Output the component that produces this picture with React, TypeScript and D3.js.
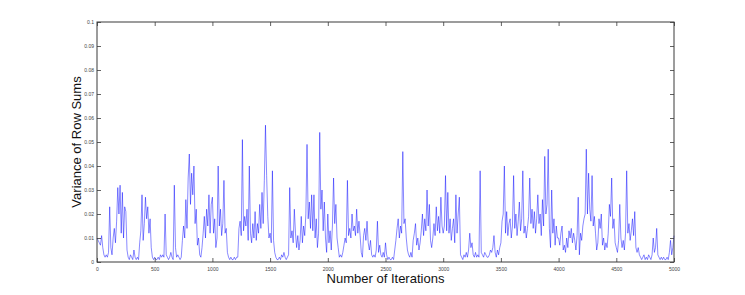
import { useEffect, useRef } from "react";
import * as d3 from "d3";

// variance of row sums, sampled every 10 iterations (units of 1e-3)
const iter0to1000 = [
  10, 9, 8, 7, 11, 6, 3, 2, 3, 2, 4, 23, 6, 3, 10, 14, 8, 17, 31, 20,
  32, 12, 29, 10, 23, 21, 5, 2, 1, 3, 2, 1, 5, 2, 1, 2, 1, 8, 13, 28,
  9, 16, 27, 18, 23, 12, 18, 6, 2, 1, 2, 1, 1, 2, 1, 3, 2, 3, 2, 20,
  3, 2, 1, 2, 4, 2, 1, 32, 6, 2, 3, 2, 1, 2, 9, 15, 10, 26, 14, 35,
  45, 24, 37, 28, 40, 16, 22, 7, 10, 3, 2, 6, 12, 19, 10, 22, 15, 28, 12, 24,
];
const iter1000to2000 = [
  27, 12, 18, 6, 10, 40, 15, 22, 11, 16, 34, 12, 14, 4, 2, 1, 2, 1, 1, 2,
  1, 2, 2, 14, 17, 11, 51, 13, 19, 15, 22, 9, 40, 12, 8, 16, 10, 21, 9, 16,
  12, 24, 14, 29, 16, 34, 57, 36, 19, 10, 12, 8, 38, 9, 4, 2, 1, 1, 2, 1,
  3, 2, 4, 2, 1, 2, 3, 31, 10, 13, 8, 22, 12, 6, 11, 5, 9, 19, 8, 15,
  11, 20, 49, 18, 25, 14, 28, 13, 28, 10, 18, 6, 12, 54, 22, 30, 13, 25, 10, 4,
];
const iter2000to3000 = [
  20, 8, 13, 5, 15, 35, 16, 24, 10, 6, 2, 3, 2, 4, 7, 10, 8, 34, 11, 14,
  10, 20, 13, 15, 11, 22, 12, 17, 11, 4, 2, 11, 14, 9, 17, 8, 5, 9, 3, 2,
  3, 2, 5, 17, 4, 7, 3, 2, 4, 2, 8, 3, 1, 2, 1, 1, 2, 1, 5, 9,
  14, 18, 10, 15, 12, 46, 16, 18, 10, 5, 3, 2, 4, 2, 9, 12, 16, 7, 10, 5,
  8, 13, 20, 11, 18, 13, 30, 15, 24, 9, 6, 10, 16, 11, 23, 13, 19, 12, 27, 15,
];
const iter3000to4000 = [
  12, 15, 36, 13, 29, 12, 18, 9, 14, 18, 8, 28, 12, 20, 27, 3, 2, 1, 3, 2,
  4, 2, 5, 12, 6, 8, 3, 2, 4, 2, 3, 2, 38, 4, 3, 2, 4, 3, 2, 2,
  3, 5, 4, 6, 11, 4, 2, 5, 3, 6, 8, 17, 20, 40, 12, 21, 11, 16, 18, 10,
  15, 36, 14, 20, 11, 17, 25, 13, 18, 38, 12, 15, 10, 14, 19, 35, 16, 22, 14, 21,
  12, 18, 28, 16, 20, 11, 26, 15, 44, 20, 24, 47, 14, 6, 30, 12, 18, 7, 15, 10,
];
const iter4000to5000 = [
  10, 7, 12, 15, 5, 7, 4, 10, 6, 13, 10, 14, 8, 12, 9, 5, 11, 27, 3, 12,
  9, 15, 18, 20, 47, 20, 37, 22, 17, 36, 15, 19, 12, 5, 8, 18, 14, 20, 7, 10,
  5, 8, 6, 12, 24, 19, 35, 14, 18, 8, 6, 4, 9, 24, 10, 6, 9, 5, 12, 38,
  12, 16, 9, 13, 18, 11, 21, 6, 4, 6, 3, 2, 1, 2, 3, 1, 2, 1, 3, 2,
  1, 3, 10, 4, 6, 14, 3, 2, 1, 2, 1, 2, 1, 1, 2, 1, 4, 9, 3, 6, 11,
];

const xTicks = [0, 500, 1000, 1500, 2000, 2500, 3000, 3500, 4000, 4500, 5000];
const yTicks = [0, 0.01, 0.02, 0.03, 0.04, 0.05, 0.06, 0.07, 0.08, 0.09, 0.1];

const series = [
  ...iter0to1000,
  ...iter1000to2000,
  ...iter2000to3000,
  ...iter3000to4000,
  ...iter4000to5000,
].map((v, i) => ({ iter: i * 10, value: v / 1000 }));

export default function App() {
  const ref = useRef<SVGSVGElement>(null);

  useEffect(() => {
    if (!ref.current) return;
    const svg = d3.select(ref.current);
    svg.selectAll("*").remove();

    const left = 97, right = 674, top = 22, bottom = 262;
    const axisColor = "#3a3a3a";

    const x = d3.scaleLinear().domain([0, 5000]).range([left, right]);
    const y = d3.scaleLinear().domain([0, 0.1]).range([bottom, top]);

    // data line
    const line = d3.line<{ iter: number; value: number }>()
      .x(d => x(d.iter))
      .y(d => y(d.value));

    svg.append("path")
      .datum(series)
      .attr("d", line)
      .attr("fill", "none")
      .attr("stroke", "#0000ff")
      .attr("stroke-width", 0.55)
      .attr("stroke-opacity", 0.85);

    // box
    svg.append("rect")
      .attr("x", left).attr("y", top)
      .attr("width", right - left).attr("height", bottom - top)
      .attr("fill", "none")
      .attr("stroke", axisColor)
      .attr("stroke-width", 1);

    const styleAxis = (g: any, showLabels: boolean) => {
      g.select(".domain").remove();
      g.selectAll(".tick line").attr("stroke", axisColor).attr("stroke-width", 0.8);
      g.selectAll(".tick text")
        .attr("fill", "#444")
        .style("font-family", "Liberation Sans, Arial, sans-serif")
        .style("font-size", "5px")
        .style("display", showLabels ? null : "none");
    };

    // bottom and top x ticks (inward)
    svg.append("g")
      .attr("transform", `translate(0,${bottom})`)
      .call(d3.axisBottom(x).tickValues(xTicks).tickSize(-4).tickPadding(5).tickFormat(d3.format("d")))
      .call((g: any) => styleAxis(g, true));
    svg.append("g")
      .attr("transform", `translate(0,${top})`)
      .call(d3.axisTop(x).tickValues(xTicks).tickSize(-4))
      .call((g: any) => styleAxis(g, false));

    // left and right y ticks (inward)
    svg.append("g")
      .attr("transform", `translate(${left},0)`)
      .call(d3.axisLeft(y).tickValues(yTicks).tickSize(-4).tickPadding(3).tickFormat(d => `${+(+d).toFixed(2)}`))
      .call((g: any) => styleAxis(g, true));
    svg.append("g")
      .attr("transform", `translate(${right},0)`)
      .call(d3.axisRight(y).tickValues(yTicks).tickSize(-4))
      .call((g: any) => styleAxis(g, false));

    // axis titles
    svg.append("text")
      .attr("x", (left + right) / 2)
      .attr("y", 283)
      .attr("text-anchor", "middle")
      .style("font-family", "Liberation Sans, Arial, sans-serif")
      .style("font-size", "13px")
      .attr("fill", "#111")
      .text("Number of Iterations");

    svg.append("text")
      .attr("transform", `translate(81,${(top + bottom) / 2}) rotate(-90)`)
      .attr("text-anchor", "middle")
      .style("font-family", "Liberation Sans, Arial, sans-serif")
      .style("font-size", "13px")
      .attr("fill", "#111")
      .text("Variance of Row Sums");
  }, []);

  return (
    <svg
      ref={ref}
      width={745}
      height={295}
      style={{ position: "absolute", left: 0, top: 0, background: "#fff" }}
    />
  );
}
